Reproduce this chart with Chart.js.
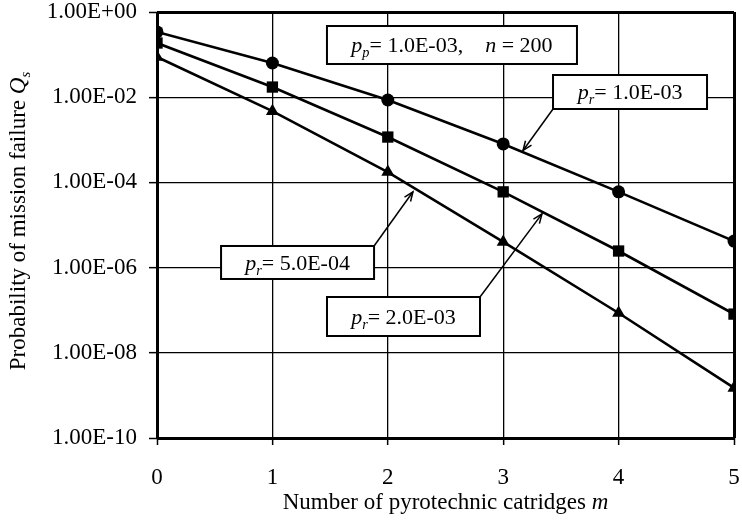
<!DOCTYPE html>
<html>
<head>
<meta charset="utf-8">
<script src="https://cdn.jsdelivr.net/npm/chart.js@4/dist/chart.umd.min.js"></script>
<style>
html,body{margin:0;padding:0;background:#fff;}
#wrap{width:742px;height:523px;}
</style>
</head>
<body>
<div id="wrap"><canvas id="c" width="742" height="523"></canvas></div>
<script>
// ---- data ----
const mValues = [0, 1, 2, 3, 4, 5];
const qPr1e3 = [0.34, 0.0635, 8.6e-3, 8.0e-4, 6.0e-5, 4.2e-6];      // circles
const qPr2e3 = [0.187, 0.0173, 1.16e-3, 6.0e-5, 2.45e-6, 8.1e-8];   // squares
const qPr5e4 = [0.088, 4.7e-3, 1.75e-4, 4.0e-6, 8.6e-8, 1.5e-9];    // triangles
const yTickValues = [1e-10, 1e-8, 1e-6, 1e-4, 1e-2, 1];
const xTitle = 'Number of pyrotechnic catridges ';
const xTitleVar = 'm';
const yTitle = 'Probability of mission failure ';
const yTitleVar = 'Q';
const yTitleSub = 's';
const noteHeader = [['p','i'],['p','is'],['= 1.0E-03,','n'],['    ','n'],['n','i'],[' = 200','n']];
const noteA = [['p','i'],['r','is'],['= 1.0E-03','n']];
const noteB = [['p','i'],['r','is'],['= 5.0E-04','n']];
const noteC = [['p','i'],['r','is'],['= 2.0E-03','n']];

// ---- annotation layout (data-space anchors) ----
const annLayout = [
  {seg: noteHeader, m: 2.556, lq: -0.775, w: 250, h: 38},
  {seg: noteA, m: 4.099, lq: -1.878, w: 154, h: 34, from: 'bl', tipM: 3.172, tipLq: -3.25},
  {seg: noteB, m: 1.218, lq: -5.880, w: 153, h: 33, from: 'tr', tipM: 2.218, tipLq: -4.22},
  {seg: noteC, m: 2.136, lq: -7.148, w: 153, h: 39, from: 'tr', tipM: 3.336, tipLq: -4.74}
];

const FONT = '"Liberation Serif", "Times New Roman", serif';
const TICK_SIZE = 23;
const TITLE_SIZE = 23;
const NOTE_SIZE = 22;

function fmt(v){
  const e = Math.round(Math.log10(v));
  const mant = v / Math.pow(10, e);
  return mant.toFixed(2) + 'E' + (e < 0 ? '-' : '+') + String(Math.abs(e)).padStart(2, '0');
}

function drawRich(ctx, segs, cx, cy, size){
  const parts = segs.map(([t, st]) => {
    const italic = st.indexOf('i') >= 0;
    const sub = st.indexOf('s') >= 0;
    const fs = sub ? size * 0.65 : size;
    const font = (italic ? 'italic ' : '') + fs + 'px ' + FONT;
    ctx.font = font;
    return {t, font, sub, w: ctx.measureText(t).width};
  });
  const total = parts.reduce((a, p) => a + p.w, 0);
  let x = cx - total / 2;
  ctx.textBaseline = 'alphabetic';
  ctx.textAlign = 'left';
  const base = cy + size * 0.33;
  for (const p of parts){
    ctx.font = p.font;
    ctx.fillText(p.t, x, base + (p.sub ? size * 0.22 : 0));
    x += p.w;
  }
}

const annotPlugin = {
  id: 'annot',
  afterDraw(chart){
    const ctx = chart.ctx;
    const xs = chart.scales.x, ys = chart.scales.y;
    const area = chart.chartArea;
    ctx.save();
    ctx.fillStyle = '#000';
    ctx.strokeStyle = '#000';
    for (const a of annLayout){
      const cx = xs.getPixelForValue(a.m);
      const cy = ys.getPixelForValue(Math.pow(10, a.lq));
      const l = cx - a.w / 2, t = cy - a.h / 2;
      ctx.fillStyle = '#fff';
      ctx.fillRect(l, t, a.w, a.h);
      ctx.lineWidth = 2;
      ctx.strokeStyle = '#000';
      ctx.strokeRect(l, t, a.w, a.h);
      ctx.fillStyle = '#000';
      drawRich(ctx, a.seg, cx, cy, NOTE_SIZE);
      if (a.from){
        const sx = a.from === 'bl' ? l : l + a.w;
        const sy = a.from === 'bl' ? t + a.h : t;
        const tx = xs.getPixelForValue(a.tipM);
        const ty = ys.getPixelForValue(Math.pow(10, a.tipLq));
        ctx.lineWidth = 1.5;
        ctx.beginPath();
        ctx.moveTo(sx, sy);
        ctx.lineTo(tx, ty);
        ctx.stroke();
        const ang = Math.atan2(ty - sy, tx - sx);
        const L = 10, sp = 0.38;
        ctx.beginPath();
        ctx.moveTo(tx - L * Math.cos(ang - sp), ty - L * Math.sin(ang - sp));
        ctx.lineTo(tx, ty);
        ctx.lineTo(tx - L * Math.cos(ang + sp), ty - L * Math.sin(ang + sp));
        ctx.stroke();
      }
    }
    const xc = (area.left + area.right) / 2;
    drawRich(ctx, [[xTitle, 'n'], [xTitleVar, 'i']], xc, 501, TITLE_SIZE);
    ctx.translate(17, (area.top + area.bottom) / 2 - 4);
    ctx.rotate(-Math.PI / 2);
    drawRich(ctx, [[yTitle, 'n'], [yTitleVar, 'i'], [yTitleSub, 'is']], 0, 0, TITLE_SIZE);
    ctx.restore();
  }
};

function ds(label, vals, style, radius){
  return {
    label,
    data: mValues.map((m, i) => ({x: m, y: vals[i]})),
    borderColor: '#000',
    backgroundColor: '#000',
    borderWidth: 2.6,
    pointStyle: style,
    pointRadius: radius,
    pointBackgroundColor: '#000',
    pointBorderColor: '#000',
    pointBorderWidth: 0,
    tension: 0
  };
}

new Chart(document.getElementById('c'), {
  type: 'line',
  data: {
    datasets: [
      ds('pr=1.0E-03', qPr1e3, 'circle', 6.5),
      ds('pr=2.0E-03', qPr2e3, 'rect', 8),
      ds('pr=5.0E-04', qPr5e4, 'triangle', 7.5)
    ]
  },
  options: {
    responsive: false,
    animation: false,
    devicePixelRatio: 1,
    layout: {padding: {top: 12, right: 8, left: 0, bottom: 0}},
    plugins: {legend: {display: false}, tooltip: {enabled: false}},
    scales: {
      x: {
        type: 'linear',
        min: 0, max: 5,
        afterFit(s){ s.height = 85; s.paddingLeft = 0; s.paddingRight = 0; },
        ticks: {stepSize: 1, color: '#000', font: {family: FONT, size: TICK_SIZE}, padding: 19},
        grid: {
          color: '#000',
          lineWidth: c => (c.index === 0 || c.index === 5) ? 3 : 1.3,
          tickLength: 7,
          tickWidth: 1.5,
          tickColor: '#000'
        },
        border: {display: false}
      },
      y: {
        type: 'logarithmic',
        min: 1e-10, max: 1,
        afterFit(s){ s.width = 157; s.paddingTop = 0; s.paddingBottom = 0; },
        afterBuildTicks(s){ s.ticks = yTickValues.map(v => ({value: v})); },
        ticks: {
          color: '#000',
          font: {family: FONT, size: TICK_SIZE},
          padding: 12,
          autoSkip: false,
          callback: v => fmt(v)
        },
        grid: {
          color: '#000',
          lineWidth: c => (c.index === 0 || c.index === yTickValues.length - 1) ? 3 : 1.3,
          tickLength: 8,
          tickWidth: 1.5,
          tickColor: '#000'
        },
        border: {display: false}
      }
    }
  },
  plugins: [annotPlugin]
});
</script>
</body>
</html>
